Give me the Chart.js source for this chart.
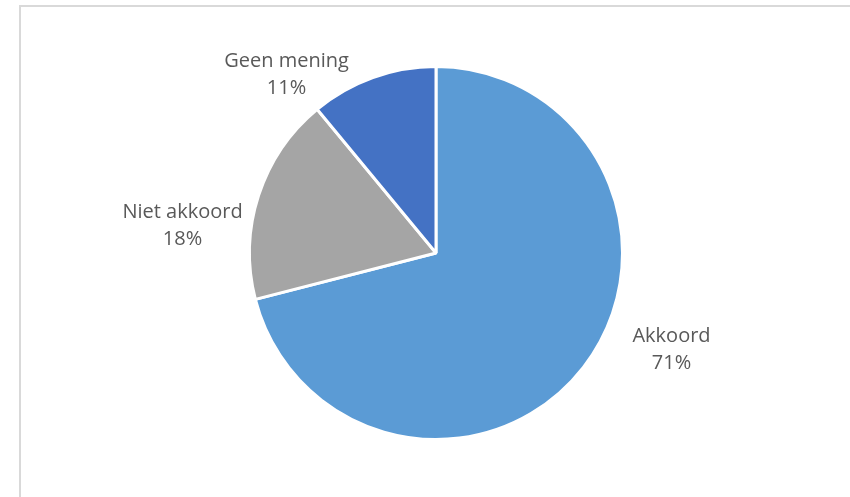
<!DOCTYPE html>
<html>
<head>
<meta charset="utf-8">
<script src="https://cdn.jsdelivr.net/npm/chart.js"></script>
<style>
  html, body { margin:0; padding:0; background:#fff; overflow:hidden; }
  #wrap { position:relative; width:850px; height:497px; }
  #frame { position:absolute; left:19px; top:5px; width:900px; height:600px; border:2px solid #d9d9d9; box-sizing:border-box; }
  #chart { position:absolute; left:0; top:0; }
</style>
</head>
<body>
<div id="wrap">
  <div id="frame"></div>
  <canvas id="chart" width="850" height="497"></canvas>
</div>
<script>
// data
var categories = ['Akkoord', 'Niet akkoord', 'Geen mening'];
var percentages = [71, 18, 11];
var sliceColors = ['#5b9bd5', '#a5a5a5', '#4472c4'];

// label placement (angle shift in degrees from slice middle, distance as factor of radius)
var labelPlace = [
  { shift: -15.5, dist: 1.376 },
  { shift: -11.8, dist: 1.378 },
  { shift: -20.2, dist: 1.257 }
];

var pieLabels = {
  id: 'pieLabels',
  afterDatasetsDraw: function(chart){
    var ctx = chart.ctx;
    var meta = chart.getDatasetMeta(0);
    ctx.save();
    ctx.font = '20px "Open Sans", sans-serif';
    ctx.fillStyle = '#595959';
    ctx.textAlign = 'center';
    ctx.textBaseline = 'middle';
    meta.data.forEach(function(arc, i){
      var p = arc.getProps(['x','y','startAngle','endAngle','outerRadius'], true);
      var mid = (p.startAngle + p.endAngle) / 2 + labelPlace[i].shift * Math.PI / 180;
      var r = (p.outerRadius - 1.5) * labelPlace[i].dist;
      var cx = p.x + Math.cos(mid) * r;
      var cy = p.y + Math.sin(mid) * r;
      ctx.fillText(categories[i], cx, cy - 13.5);
      ctx.fillText(percentages[i] + '%', cx, cy + 13.5);
    });
    ctx.restore();
  }
};

new Chart(document.getElementById('chart').getContext('2d'), {
  type: 'pie',
  data: {
    labels: categories,
    datasets: [{
      data: percentages,
      backgroundColor: sliceColors,
      borderColor: '#ffffff',
      borderWidth: 3
    }]
  },
  options: {
    responsive: false,
    animation: false,
    layout: { padding: { left: 248, right: 226, top: 65, bottom: 56 } },
    plugins: {
      legend: { display: false },
      tooltip: { enabled: false }
    }
  },
  plugins: [pieLabels]
});
</script>
</body>
</html>
